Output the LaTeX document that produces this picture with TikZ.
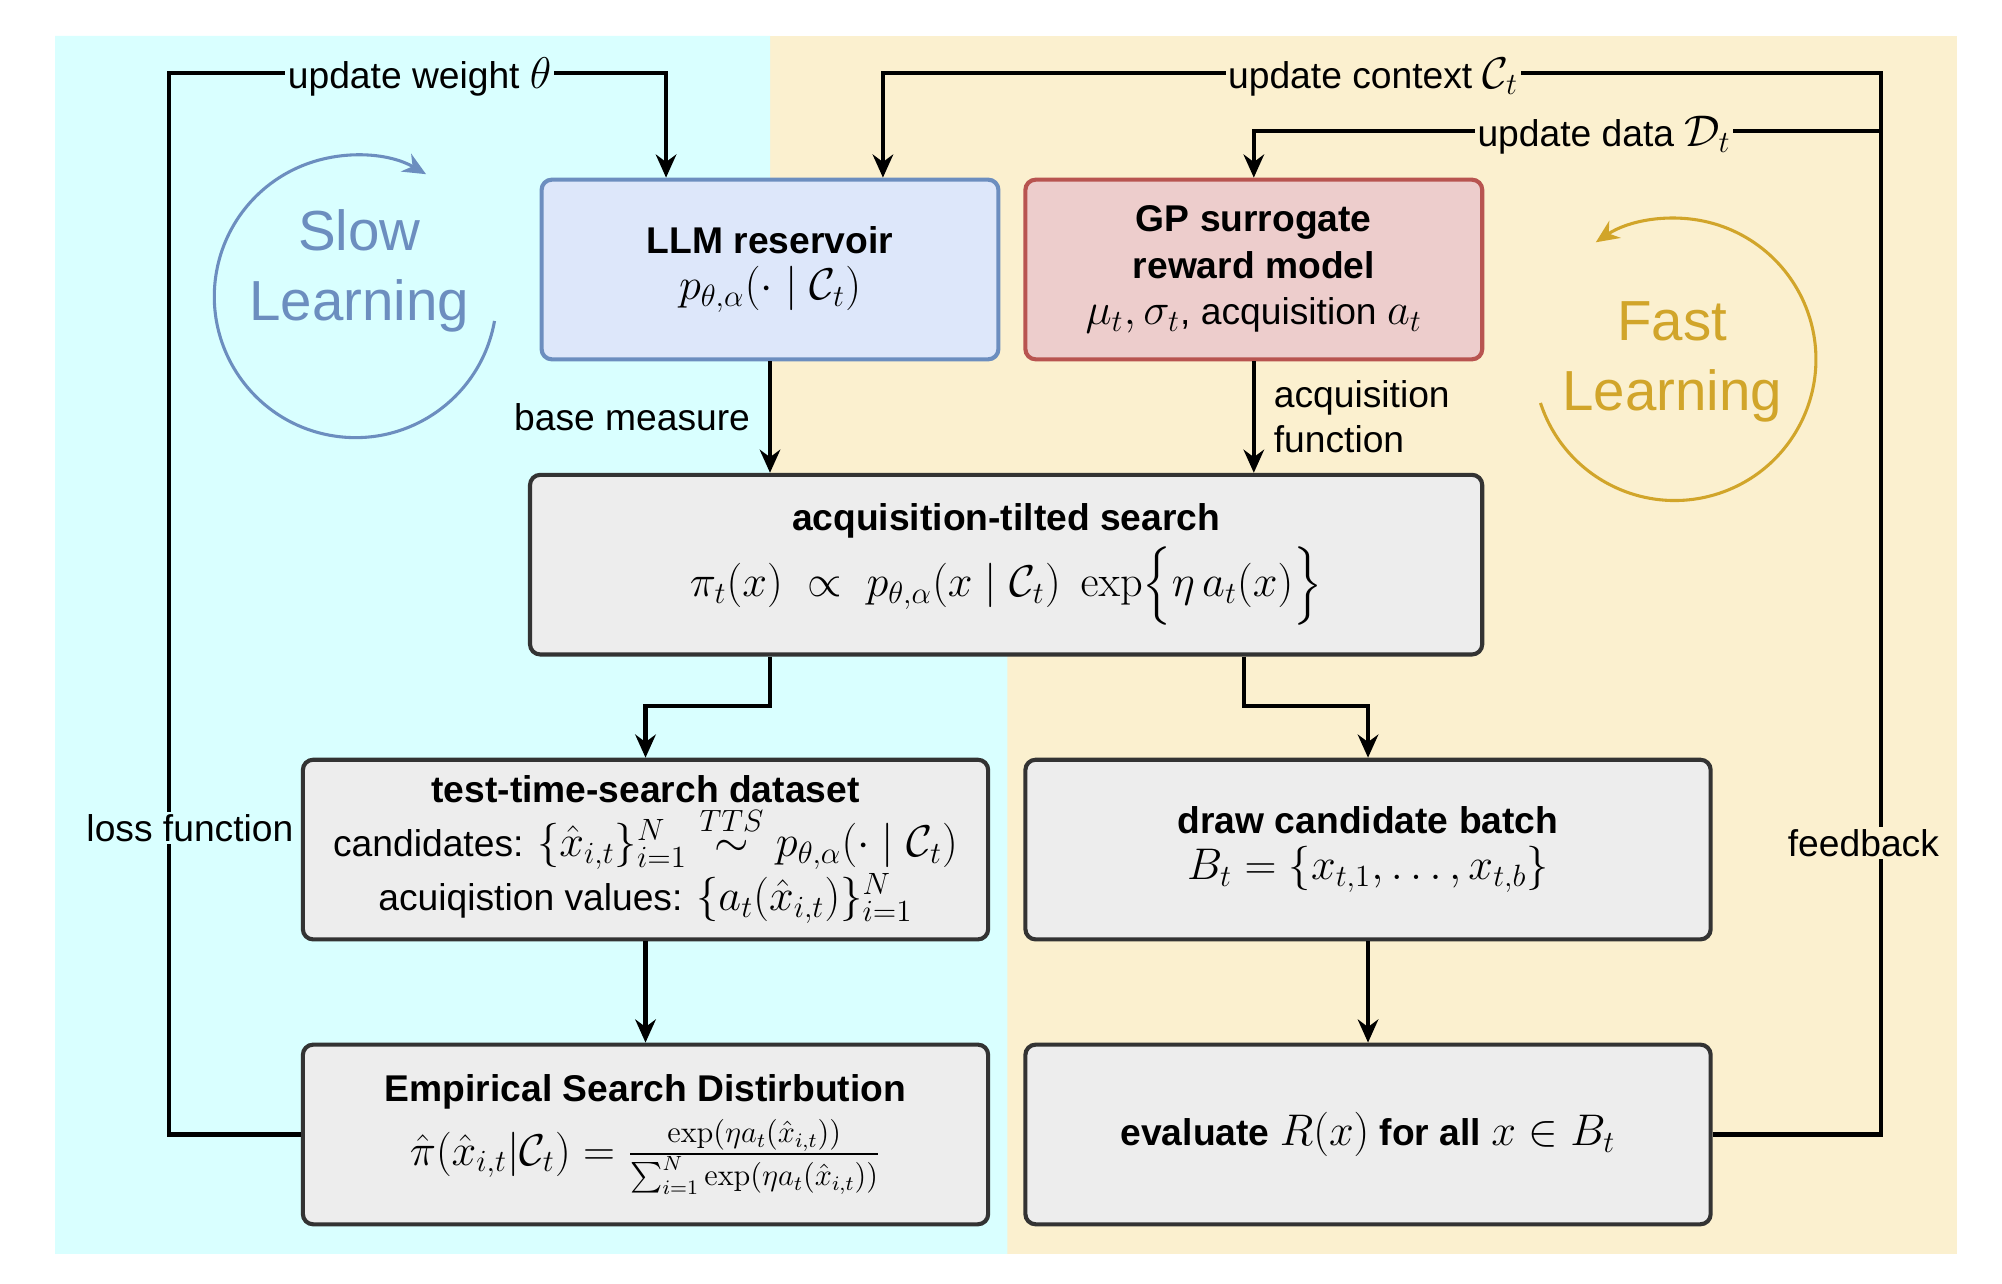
\documentclass[tikz,border=0pt]{standalone}
\usepackage{amsmath,amssymb}
\usepackage[no-math]{fontspec}
\setmainfont{Liberation Sans}
\usetikzlibrary{arrows.meta,positioning}
\definecolor{slowcol}{HTML}{6C8EBF}
\definecolor{fastcol}{HTML}{D1A52A}
\definecolor{cyanbg}{HTML}{D9FFFF}
\definecolor{tanbg}{HTML}{FBF0CF}
\definecolor{gpfill}{HTML}{EDCDCC}
\definecolor{llmfill}{HTML}{DDE7FA}
\newcommand{\mth}[1]{{\fontsize{17}{20}\selectfont$#1$}}
\begin{document}
\begin{tikzpicture}[x=0.5pt, y=-0.5pt, >={Stealth[length=9pt,width=8pt]}]
 % styles for boxes and arrows
 \tikzset{
box/.style = {draw=black!80, fill=black!7, rounded corners=4pt, line width=1.6pt, align=center, minimum height=70pt, inner sep=2pt, font=\fontsize{14.5}{18}\selectfont},
line/.style = {draw, ->, line width=1.6pt},
lbl/.style = {font=\fontsize{14.5}{17.5}\selectfont, inner sep=1pt},
}
 \useasboundingbox (0,0) rectangle (1560,1000);
 % backgrounds
 \fill[tanbg] (600,28) rectangle (1525,977);
 \fill[cyanbg] (43,28) -- (600,28) -- (600,510) -- (785,510) -- (785,977) -- (43,977) -- cycle;

 % boxes
 \node [box, minimum width=178pt, fill=llmfill, draw=slowcol] (llm) at (600,210) {\textbf{LLM reservoir}\\ \mth{p_{\theta,\alpha}(\cdot \mid \mathcal{C}_t)}};
 \node [box, minimum width=178pt, fill=gpfill, draw={rgb,255:red,184;green,84;blue,80}] (gp) at (977,210) {\textbf{GP surrogate}\\ \textbf{reward model}\\ \mth{\mu_t, \sigma_t}, acquisition \mth{a_t}};
 \node [box, minimum width=371pt] (acq) at (784,440) {\textbf{acquisition-tilted search}\\[2pt] \mth{\pi_t(x) \;\propto\; p_{\theta,\alpha}(x \mid \mathcal{C}_t)\;\exp\!\Big\{\eta\, a_t(x)\Big\}}};
 \node [box, minimum width=267pt, font=\fontsize{14.5}{21}\selectfont] (tts) at (503,662) {\textbf{test-time-search dataset}\\ candidates: \mth{\{\hat{x}_{i,t}\}_{i=1}^{N} \overset{TTS}{\sim} p_{\theta,\alpha}(\cdot \mid \mathcal{C}_t)}\\ acuiqistion values: \mth{\{a_t(\hat{x}_{i,t})\}_{i=1}^{N}}};
 \node [box, minimum width=267pt] (cand) at (1066,662) {\textbf{draw candidate batch}\\ \mth{B_t = \{x_{t,1}, \ldots, x_{t,b}\}}};
 \node [box, minimum width=267pt] (emp) at (503,884) {\textbf{Empirical Search Distirbution}\\[3pt] \mth{\hat{\pi}(\hat{x}_{i,t}|\mathcal{C}_t) = \frac{\exp(\eta a_t(\hat{x}_{i,t}))}{\sum_{i=1}^{N}\exp(\eta a_t(\hat{x}_{i,t}))}}};
 \node [box, minimum width=267pt] (eval) at (1066,884) {\textbf{evaluate \mth{R(x)} for all \mth{x \in B_t}}};

 % forward arrows
 \draw [line] (llm.south) -- (acq.north -| llm.south) node[midway, left, lbl, xshift=-6pt] {base measure};
 \draw [line] (gp.south) -- (acq.north -| gp.south) node[midway, right, lbl, align=left, xshift=6pt] {acquisition\\function};
 \draw [line] (acq.south -| llm.south) -- (600,550) -- (503,550) -- (tts.north);
 \draw [line] (acq.south -| 969,0) -- (969,550) -- (1066,550) -- (cand.north);
 \draw [line] (tts) -- (emp);
 \draw [line] (cand) -- (eval);

 % slow loop
 \draw [line] (emp.west) -- (132,884) -- (132,57) -- (519,57) -- (llm.north -| 519,0);
 \node [lbl, fill=cyanbg] (upw) at (327,60) {update weight \mth{\theta}};
 \node [lbl, fill=cyanbg] (loss) at (148,645) {loss function};

 % fast loop
 \coordinate (fb) at (1466,102);
 \draw [line] (eval.east) -- (1466,884) -- (1466,57) -- (688,57) -- (llm.north -| 688,0);
 \draw [line] (fb) -- (977,102) -- (gp.north);
 \node [lbl, fill=tanbg] (upc) at (1070,60) {update context \mth{\mathcal{C}_t}};
 \node [lbl, fill=tanbg] (upd) at (1250,105) {update data \mth{\mathcal{D}_t}};
 \node [lbl, fill=tanbg] (feed) at (1452,657) {feedback};

 % learning cycles
 \draw [slowcol, line width=1.2pt, -{Stealth[length=9pt,width=8pt]}] (277,231) ++(10:110) arc[start angle=10, end angle=300, radius=110];
 \node [slowcol, align=center, font=\fontsize{22}{27}\selectfont] (slow) at (280,211) {Slow\\Learning};
 \draw [fastcol, line width=1.2pt, -{Stealth[length=9pt,width=8pt]}] (1305,280) ++(162:110) arc[start angle=162, end angle=-124, radius=110];
 \node [fastcol, align=center, font=\fontsize{22}{27}\selectfont] (fast) at (1303,282) {Fast\\Learning};
\end{tikzpicture}
\end{document}
